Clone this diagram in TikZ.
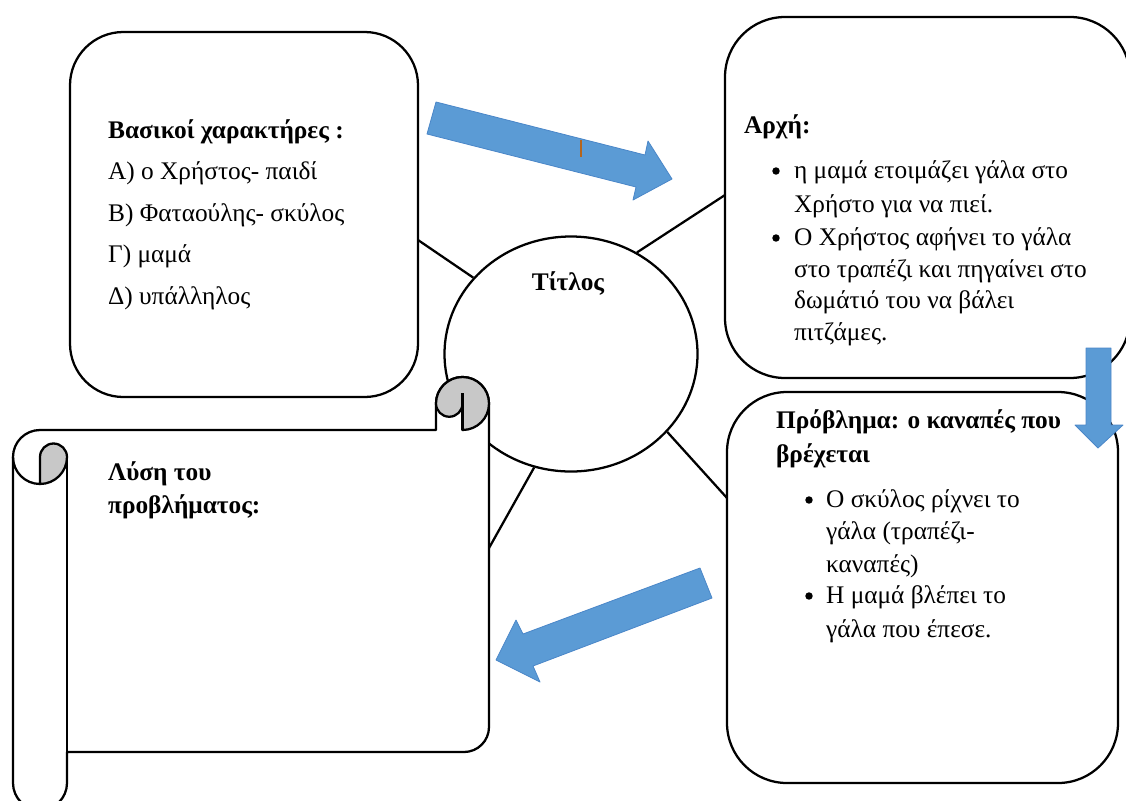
\documentclass[tikz,border=0pt]{standalone}
\usepackage{fontspec}
\setmainfont{Liberation Serif}
\usetikzlibrary{shapes.geometric}
\definecolor{arrowblue}{HTML}{5B9BD5}
\definecolor{arrowedge}{HTML}{4A86C8}
\definecolor{rollgray}{HTML}{C8C8C8}
\definecolor{tickbrown}{HTML}{B5651D}
\begin{document}
\begin{tikzpicture}[x=0.75pt,y=-0.75pt,line width=1.7pt,line join=round,
  box/.style={draw,fill=white,rectangle,rounded corners=#1,inner sep=0pt},
  box/.default=42pt,
  txt/.style={anchor=base west,inner sep=0pt,font=\fontsize{19pt}{22pt}\selectfont},
  hd/.style={anchor=base west,inner sep=0pt,font=\fontsize{19pt}{22pt}\selectfont\bfseries},
  bul/.style={circle,fill=black,inner sep=0pt,minimum size=5.6pt},
  bluearrow/.style={fill=arrowblue,draw=arrowedge,line width=0.6pt},
  roll/.style={draw,fill=rollgray}]
\path[use as bounding box] (0,0) rectangle (1126,800);
\clip (0,0) rectangle (1126,800);

% centre circle
\node[draw,fill=white,ellipse,inner sep=0pt,minimum width=189.75pt,minimum height=176.25pt] (ttl) at (571,354) {};

% connector ends on the boxes
\coordinate (e1) at (418,240);
\coordinate (e2) at (725,195);
\coordinate (e3) at (727,498);
\coordinate (e4) at (489,548);
\draw (ttl.142.6) -- (e1);
\draw (ttl.57) -- (e2);
\draw (ttl.-39.5) -- (e3);
\draw (ttl.-108.6) -- (e4);

% boxes
\node[box=40pt,minimum width=261pt,minimum height=273.75pt] (chars) at (244,214.5) {};
\node[box=45pt,minimum width=303.75pt,minimum height=270.75pt] (start) at (927.5,197.5) {};
\node[box=45pt,minimum width=293.25pt,minimum height=293.25pt] (prob) at (922.5,587.5) {};

% title
\node[anchor=base,inner sep=0pt,font=\fontsize{19pt}{22pt}\selectfont\bfseries] (ttltext) at (568,290) {Τίτλος};

% characters text
\node[hd] (c0) at (107,138) {Βασικοί χαρακτήρες :};
\node[txt] (c1) at (107,179.5) {Α) ο Χρήστος- παιδί};
\node[txt] (c2) at (107,221) {Β) Φαταούλης- σκύλος};
\node[txt] (c3) at (107,262.5) {Γ) μαμά};
\node[txt] (c4) at (107,304) {Δ) υπάλληλος};

% start text
\node[hd] (s0) at (743,133) {Αρχή:};
\node[bul] (sb1) at (776,171) {};
\node[bul] (sb2) at (776,238) {};
\node[txt] (s1) at (793,178) {η μαμά ετοιμάζει γάλα στο};
\node[txt] (s2) at (793,212) {Χρήστο για να πιεί.};
\node[txt] (s3) at (793,245) {Ο Χρήστος αφήνει το γάλα};
\node[txt] (s4) at (793,277) {στο τραπέζι και πηγαίνει στο};
\node[txt] (s5) at (793,308) {δωμάτιό του να βάλει};
\node[txt] (s6) at (793,340) {πιτζάμες.};

% problem text
\node[hd] (p0) at (775,428) {Πρόβλημα: ο καναπές που};
\node[hd] (p00) at (775,462) {βρέχεται};
\node[bul] (pb1) at (809,500) {};
\node[bul] (pb2) at (809,596) {};
\node[txt] (p1) at (825,507) {Ο σκύλος ρίχνει το};
\node[txt] (p2) at (825,539) {γάλα (τραπέζι-};
\node[txt] (p3) at (825,572) {καναπές)};
\node[txt] (p4) at (825,603) {Η μαμά βλέπει το};
\node[txt] (p5) at (825,637) {γάλα που έπεσε.};

% scroll
\draw[fill=white] (13,457) arc[start angle=180,end angle=270,radius=27]
  -- (436,430) -- (436,403.5) arc[start angle=180,end angle=360,radius=26.5]
  -- (489,727) arc[start angle=0,end angle=90,radius=25]
  -- (67,752) -- (67,783) arc[start angle=0,end angle=180,radius=27] -- cycle;
% right roll
\draw[roll] (436,403.5) arc[start angle=180,end angle=450,radius=26.5]
  -- (462.5,403.5) arc[start angle=0,end angle=180,radius=13.25] -- cycle;
\draw (462.5,393) -- (462.5,430);
% left roll
\draw[roll] (40,457) arc[start angle=180,end angle=360,radius=13.5]
  arc[start angle=0,end angle=90,radius=27] -- cycle;
\draw (13,457) arc[start angle=180,end angle=90,radius=27];
\draw (67,457) -- (67,752);
\node[hd] (l0) at (107,480) {Λύση του};
\node[hd] (l1) at (107,513) {προβλήματος:};

% blue arrows
\draw[bluearrow] (436,102) -- (645,155) -- (648,141) -- (672,179) -- (633,200) -- (636,187) -- (427,134) -- cycle;
\draw[tickbrown,line width=1.3pt] (581,140) -- (581,157);
\draw[bluearrow] (1086,348) -- (1111,348) -- (1111,425) -- (1123,425) -- (1098,448) -- (1075,425) -- (1086,425) -- cycle;
\draw[bluearrow] (700,568) -- (712,598) -- (533,666) -- (540,682) -- (496,660) -- (516,620) -- (523,634) -- cycle;
\end{tikzpicture}
\end{document}
